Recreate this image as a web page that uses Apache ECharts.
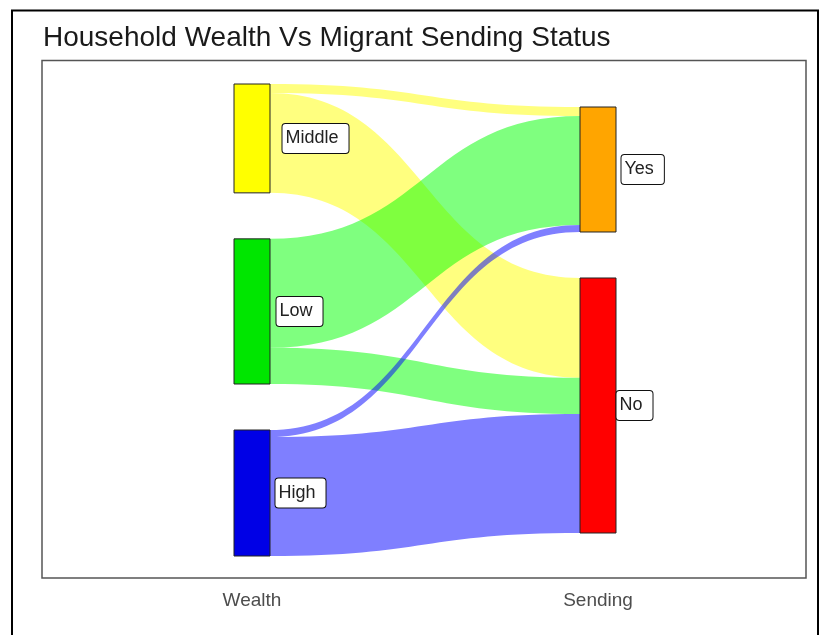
<!DOCTYPE html>
<html>
<head>
<meta charset="utf-8">
<script src="https://cdn.jsdelivr.net/npm/echarts@6/dist/echarts.min.js"></script>
<style>html,body{margin:0;padding:0;background:#fff}#c{width:820px;height:635px}</style>
</head>
<body>
<div id="c"></div>
<script>
// ---- data ----
var titleText = 'Household Wealth Vs Migrant Sending Status';
var axisNames = ['Wealth', 'Sending'];
var wealthNodes = ['Middle', 'Low', 'High'];
var sendingNodes = ['Yes', 'No'];
var wealthColors = ['#FFFF00', '#00E600', '#0000E6'];
var wealthFlowColors = ['#FFFF00', '#00FF00', '#0000FF'];
var sendingColors = ['#FFA500', '#FF0000'];
// flows: from wealth to sending
var flowYes = [9, 108, 7];   // Middle, Low, High -> Yes
var flowNo = [99, 36, 118];  // Middle, Low, High -> No

// ---- layout ----
var L = 234, T = 84, W = 382, H = 472, GAP = 46, NW = 36;
var wealthSum = flowYes.reduce(function(a,b){return a+b;},0) + flowNo.reduce(function(a,b){return a+b;},0);
var yesTot = flowYes.reduce(function(a,b){return a+b;},0);
var noTot = flowNo.reduce(function(a,b){return a+b;},0);
var ky = Math.min((H - (wealthNodes.length-1)*GAP)/wealthSum, (H - (sendingNodes.length-1)*GAP)/(yesTot+noTot));
var sendSpan = (yesTot + noTot)*ky + GAP;
var off = (H - sendSpan)/2;
var sendLocalY = [off/H, (off + yesTot*ky + GAP)/H];
var wealthLabelDist = [12, 6, 5];
var sendLabelDist = [5, 0];

var labelStyle = {
  show: true, position: 'right', color: '#222', fontSize: 18,
  fontFamily: 'Liberation Sans, Arial, sans-serif',
  backgroundColor: '#fff', borderColor: '#111', borderWidth: 1, borderRadius: 3,
  padding: [6, 10, 5, 3]
};

var nodes = [];
wealthNodes.forEach(function(n, i){
  nodes.push({name: n, depth: 0, itemStyle: {color: wealthColors[i]},
    label: Object.assign({}, labelStyle, {distance: wealthLabelDist[i]})});
});
sendingNodes.forEach(function(n, i){
  nodes.push({name: n, depth: 1, localY: sendLocalY[i], itemStyle: {color: sendingColors[i]},
    label: Object.assign({}, labelStyle, {distance: sendLabelDist[i]})});
});
var links = [];
wealthNodes.forEach(function(n, i){
  links.push({source: n, target: 'Yes', value: flowYes[i], lineStyle: {color: wealthFlowColors[i]}});
  links.push({source: n, target: 'No', value: flowNo[i], lineStyle: {color: wealthFlowColors[i]}});
});

var chart = echarts.init(document.getElementById('c'), null, {renderer: 'canvas'});
chart.setOption({
  animation: false,
  backgroundColor: '#fff',
  title: {
    text: titleText, left: 38, top: 19,
    textStyle: {fontSize: 28, fontWeight: 'normal', color: '#1a1a1a', fontFamily: 'Liberation Sans, Arial, sans-serif'}
  },
  graphic: [
    {type: 'rect', shape: {x: 12, y: 10.5, width: 806, height: 700}, style: {fill: 'none', stroke: '#000', lineWidth: 2}, silent: true},
    {type: 'rect', shape: {x: 42, y: 60.5, width: 764, height: 517.5}, style: {fill: 'none', stroke: '#555', lineWidth: 1.5}, silent: true, z: 10},
    {type: 'text', x: L + NW/2, y: 601, style: {text: axisNames[0], fill: '#4d4d4d', fontSize: 19, fontFamily: 'Liberation Sans, Arial, sans-serif', textAlign: 'center', textVerticalAlign: 'middle'}},
    {type: 'text', x: L + W - NW/2, y: 601, style: {text: axisNames[1], fill: '#4d4d4d', fontSize: 19, fontFamily: 'Liberation Sans, Arial, sans-serif', textAlign: 'center', textVerticalAlign: 'middle'}}
  ],
  series: [{
    type: 'sankey',
    left: L, top: T, width: W, height: H,
    nodeWidth: NW, nodeGap: GAP,
    layoutIterations: 0,
    draggable: false,
    emphasis: {disabled: true},
    itemStyle: {borderColor: '#222', borderWidth: 1},
    lineStyle: {opacity: 0.5, curveness: 0.5},
    data: nodes,
    links: links
  }]
});
</script>
</body>
</html>
